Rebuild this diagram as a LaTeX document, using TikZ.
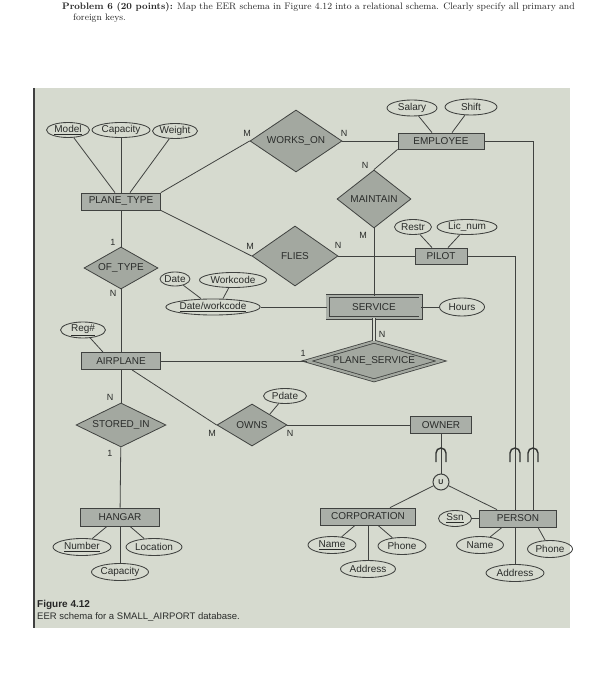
\documentclass[tikz,border=0pt]{standalone}
\usepackage{fontspec}
\newfontfamily\diafont{Liberation Sans}
\usetikzlibrary{shapes.geometric}
\definecolor{bg}{RGB}{214,218,207}
\definecolor{entfill}{RGB}{170,175,168}
\definecolor{relfill}{RGB}{163,168,160}
\definecolor{ink}{RGB}{64,66,64}
\definecolor{txt}{RGB}{42,44,42}
\begin{document}
\begin{tikzpicture}[x=1pt,y=1pt,
  every node/.style={font=\diafont\fontsize{10}{11}\selectfont, text=txt},
  ent/.style={draw=ink, fill=entfill, rectangle, inner sep=0pt, line width=0.8pt},
  rel/.style={draw=ink, fill=relfill, diamond, aspect=2, inner sep=0pt, line width=0.8pt},
  attr/.style={draw=ink, ellipse, inner sep=0pt, line width=0.85pt, minimum height=15},
  lbl/.style={inner sep=0pt, font=\diafont\fontsize{9}{10}\selectfont},
  conn/.style={draw=ink, line width=0.8pt},
  subs/.style={draw=ink!80!black, line width=1.4pt},
]
\useasboundingbox (0,0) rectangle (606,-700);
% photo background
\fill[bg] (35,-88) rectangle (570,-628);
\draw[line width=2pt, black!75] (34,-88) -- (34,-628);

% header
\node[anchor=base west, inner sep=0pt, font=\rmfamily\fontsize{9.4}{11}\selectfont, text=black!85] (hdr1) at (62,-10)
  {\textbf{Problem 6 (20 points):} Map the EER schema in Figure 4.12 into a relational schema. Clearly specify all primary and};
\node[anchor=base west, inner sep=0pt, font=\rmfamily\fontsize{9.4}{11}\selectfont, text=black!85] (hdr2) at (73,-21) {foreign keys.};

% entities
\node[ent, minimum width=79, minimum height=17] (pt) at (121,-201.5) {PLANE\_TYPE};
\node[ent, minimum width=86, minimum height=16] (emp) at (441,-141) {EMPLOYEE};
\node[ent, minimum width=52, minimum height=16] (pilot) at (441,-256) {PILOT};
\node[ent, minimum width=93, minimum height=22, double=entfill, double distance=2.4pt] (service) at (374,-307) {SERVICE};
\node[ent, minimum width=79, minimum height=17] (ap) at (121,-361) {AIRPLANE};
\node[ent, minimum width=79, minimum height=18] (hangar) at (120,-517) {HANGAR};
\node[ent, minimum width=61, minimum height=17] (owner) at (441,-425) {OWNER};
\node[ent, minimum width=95, minimum height=17] (corp) at (368,-516.5) {CORPORATION};
\node[ent, minimum width=77, minimum height=17] (person) at (518,-518.5) {PERSON};

% relationships
\node[rel, minimum width=92, minimum height=62] (wo) at (296,-141) {WORKS\_ON};
\node[rel, minimum width=86, minimum height=60] (flies) at (295,-256) {FLIES};
\node[rel, minimum width=74, minimum height=58] (maintain) at (374,-199) {MAINTAIN};
\node[rel, minimum width=74, minimum height=42] (oftype) at (121,-268) {OF\_TYPE};
\node[rel, minimum width=90, minimum height=44] (storedin) at (121,-425) {STORED\_IN};
\node[rel, minimum width=70, minimum height=42] (owns) at (252,-425) {OWNS};
\node[rel, aspect=3.3, minimum width=134, minimum height=39, double=relfill, double distance=2.2pt] (ps) at (374,-361) {PLANE\_SERVICE};

% attributes
\node[attr, minimum width=43] (model) at (68,-130) {\underline{Model}};
\node[attr, minimum width=58] (cap1) at (121,-130) {Capacity};
\node[attr, minimum width=45] (weight) at (175,-131) {Weight};
\node[attr, minimum width=50, minimum height=16] (salary) at (412,-108) {Salary};
\node[attr, minimum width=52, minimum height=16] (shift) at (471,-107) {Shift};
\node[attr, minimum width=37] (restr) at (413,-227) {Restr};
\node[attr, minimum width=60] (licnum) at (467,-227) {Lic\_num};
\node[attr, minimum width=27, minimum height=14] (date) at (175,-279) {Date};
\node[attr, minimum width=67] (workcode) at (233,-280) {Workcode};
\node[attr, minimum width=93, minimum height=16] (dw) at (213,-307) {\underline{Date/workcode}};
\node[attr, minimum width=45, minimum height=18] (hours) at (462,-307) {Hours};
\node[attr, minimum width=45, minimum height=16] (reg) at (83,-330) {\underline{Reg\#}};
\node[attr, minimum width=43] (pdate) at (285,-396) {Pdate};
\node[attr, minimum width=58, minimum height=17] (number) at (82,-547) {\underline{Number}};
\node[attr, minimum width=56, minimum height=17] (location) at (154,-547) {Location};
\node[attr, minimum width=57, minimum height=17] (cap2) at (120,-572) {Capacity};
\node[attr, minimum width=48, minimum height=17] (cname) at (332,-545) {\underline{Name}};
\node[attr, minimum width=48, minimum height=17] (cphone) at (402,-546) {Phone};
\node[attr, minimum width=55, minimum height=17] (caddr) at (368,-569) {Address};
\node[attr, minimum width=33, minimum height=16] (ssn) at (455,-518.5) {\underline{Ssn}};
\node[attr, minimum width=47, minimum height=17] (pname) at (480,-545) {Name};
\node[attr, minimum width=45, minimum height=17] (pphone) at (550,-549) {Phone};
\node[attr, minimum width=58, minimum height=17] (paddr) at (515,-573) {Address};

% union circle
\node[circle, draw=ink, line width=1pt, minimum size=16, inner sep=0pt, font=\diafont\bfseries\fontsize{7}{8}\selectfont] (u) at (441,-482) {U};

% connectors
\draw[conn] (model) -- ([xshift=-6pt]pt.north);
\draw[conn] (cap1) -- (pt.north);
\draw[conn] (weight) -- ([xshift=9pt]pt.north);
\draw[conn] (pt.north east) -- (wo.west);
\draw[conn] (pt.south east) -- (flies.west);
\draw[conn] (pt) -- (oftype);
\draw[conn] (oftype) -- (ap);
\draw[conn] (reg) -- ([xshift=-18pt]ap.north);
\draw[conn] (ap) -- (storedin);
\draw[conn] (storedin) -- (hangar);
\draw[conn] (number) -- ([xshift=-13pt]hangar.south);
\draw[conn] (location) -- ([xshift=10pt]hangar.south);
\draw[conn] (hangar) -- (cap2);
\draw[conn] ([xshift=11pt]ap.south) -- (owns.west);
\draw[conn] (pdate) -- (owns.north east);
\draw[conn] (owns.east) -- (owner.west);
\draw[conn] (ap.east) -- (ps.west);
\draw[conn] (dw.east) -- (service.west);
\draw[conn] (service.east) -- (hours.west);
\draw[conn, double=bg, double distance=2.4pt] (service.south) -- (ps.north);
\draw[conn] (maintain.south) -- (service.north);
\draw[conn] (maintain.north) -- (emp.south west);
\draw[conn] (wo.east) -- (emp.west);
\draw[conn] (salary) -- ([xshift=-9pt]emp.north);
\draw[conn] (shift) -- ([xshift=11pt]emp.north);
\draw[conn] (restr) -- ([xshift=-9pt]pilot.north);
\draw[conn] (licnum) -- ([xshift=7pt]pilot.north);
\draw[conn] (date) -- ([xshift=-12pt]dw.north);
\draw[conn] (workcode) -- ([xshift=10pt]dw.north);
\draw[conn] (flies.east) -- (pilot.west);
\draw[conn] (emp.east) -| ([xshift=15pt]person.north);
\draw[conn] (pilot.east) -| ([xshift=-3pt]person.north);
\draw[conn] (owner) -- (u);
\draw[conn] (u) -- ([xshift=22pt]corp.north);
\draw[conn] (u) -- ([xshift=-21pt]person.north);
\draw[conn] (ssn.east) -- (person.west);
\draw[conn] (cname) -- ([xshift=-13pt]corp.south);
\draw[conn] (corp.south) -- (caddr);
\draw[conn] (cphone) -- ([xshift=10pt]corp.south);
\draw[conn] (pname) -- ([xshift=-16pt]person.south);
\draw[conn] (pphone) -- ([xshift=20pt]person.south);
\draw[conn] ([xshift=-3pt]person.south) -- (paddr);

% subset symbols
\coordinate (s1) at (441,-453);
\coordinate (s2) at (515,-453);
\coordinate (s3) at (533,-453);
\foreach \s in {s1,s2,s3}
  \draw[subs] ([xshift=-5pt,yshift=-9pt]\s) -- ++(0,9) arc (180:0:5) -- ++(0,-9);

% cardinality labels
\node[lbl] (c1) at (247,-133) {M};
\node[lbl] (c2) at (344,-133) {N};
\node[lbl] (c3) at (365,-165) {N};
\node[lbl] (c4) at (363,-235) {M};
\node[lbl] (c5) at (250,-246) {M};
\node[lbl] (c6) at (338,-245) {N};
\node[lbl] (c7) at (113,-242) {1};
\node[lbl] (c8) at (113,-293) {N};
\node[lbl] (c9) at (303,-353) {1};
\node[lbl] (c10) at (382,-334) {N};
\node[lbl] (c11) at (110,-397) {N};
\node[lbl] (c12) at (110,-453) {1};
\node[lbl] (c13) at (212,-433) {M};
\node[lbl] (c14) at (290,-433) {N};

% caption
\node[anchor=base west, inner sep=0pt, font=\diafont\bfseries\fontsize{10}{12}\selectfont, text=black!85] (figlbl) at (37,-607) {Figure 4.12};
\node[anchor=base west, inner sep=0pt, font=\diafont\fontsize{9.5}{11}\selectfont] (figcap) at (37,-619) {EER schema for a SMALL\_AIRPORT database.};
\end{tikzpicture}
\end{document}
